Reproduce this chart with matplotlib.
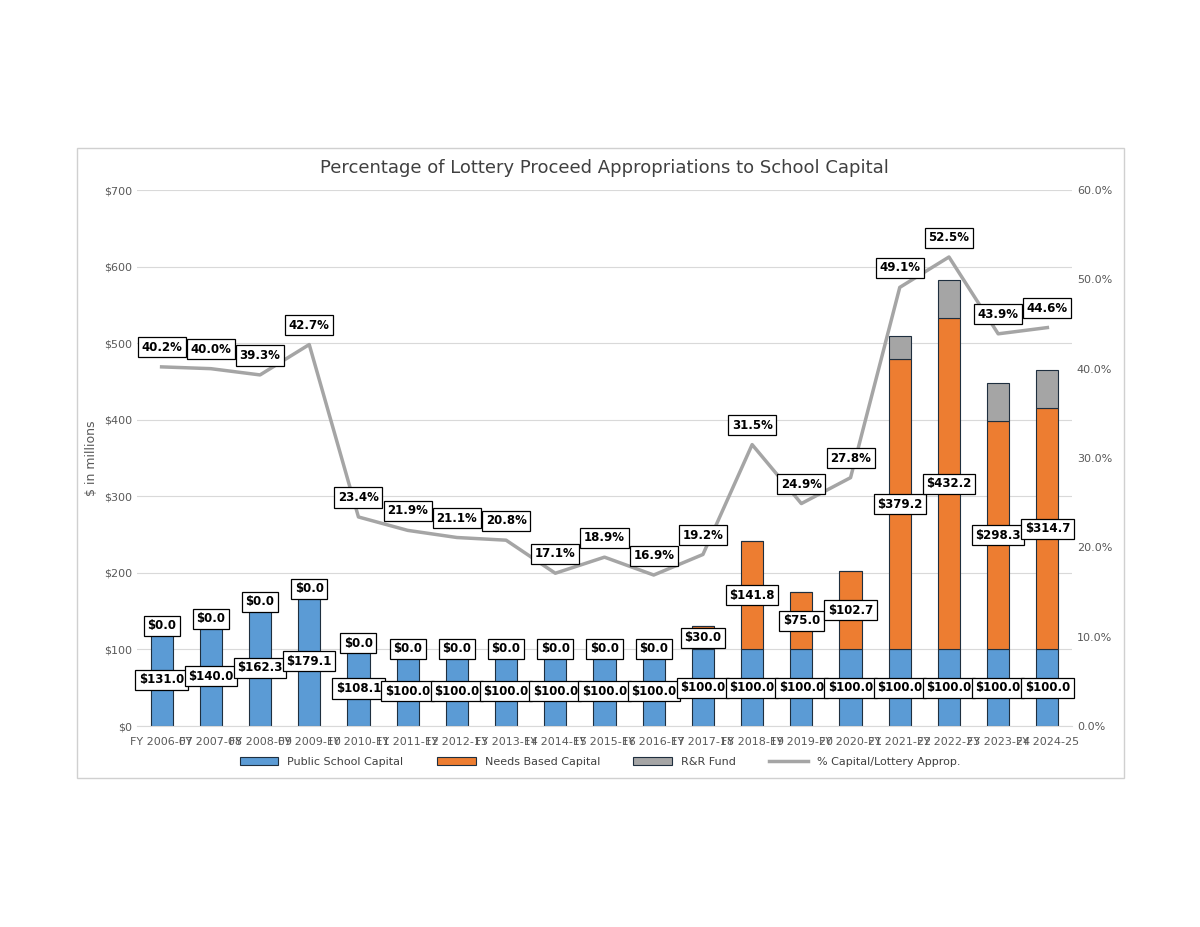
import matplotlib.pyplot as plt
import numpy as np
from matplotlib.patches import Rectangle

plt.rcParams['font.family'] = ['Liberation Sans Narrow', 'DejaVu Sans']

years = ["FY 2006-07","FY 2007-08","FY 2008-09","FY 2009-10","FY 2010-11","FY 2011-12","FY 2012-13",
         "FY 2013-14","FY 2014-15","FY 2015-16","FY 2016-17","FY 2017-18","FY 2018-19","FY 2019-20",
         "FY 2020-21","FY 2021-22","FY 2022-23","FY 2023-24","FY 2024-25"]
# drawn bar heights (as they appear in the picture)
public_drawn = [121,130,152,169,98,91,91,91,91,91,91,100,100,100,100,100,100,100,100]
# labelled values
public_label = [131.0,140.0,162.3,179.1,108.1,100,100,100,100,100,100,100,100,100,100,100,100,100,100]
needs = [0,0,0,0,0,0,0,0,0,0,0,30.0,141.8,75.0,102.7,379.2,432.2,298.3,314.7]
rr = [0,0,0,0,0,0,0,0,0,0,0,0,0,0,0,30,50,50,50]
pct = [40.2,40.0,39.3,42.7,23.4,21.9,21.1,20.8,17.1,18.9,16.9,19.2,31.5,24.9,27.8,49.1,52.5,43.9,44.6]

blue, orange, grey, lgrey = "#5B9BD5", "#ED7D31", "#A5A5A5", "#A5A5A5"
fig = plt.figure(figsize=(12, 9.27), dpi=100)
fig.patches.append(Rectangle((77/1200, 1-778/927), (1124-77)/1200, (778-148)/927,
                             transform=fig.transFigure, fill=False, ec="#D0D0D0", lw=1))
ax = fig.add_axes([137/1200, 1-726/927, (1072-137)/1200, (726-190)/927])
x = np.arange(len(years))
w = 0.45
ax.bar(x, public_drawn, w, color=blue, ec="#1F2F3F", lw=0.8, label="Public School Capital", zorder=2)
ax.bar(x, needs, w, bottom=public_drawn, color=orange, ec="#1F2F3F", lw=0.8, label="Needs Based Capital", zorder=2)
bot2 = np.array(public_drawn) + np.array(needs)
ax.bar(x, rr, w, bottom=bot2, color=grey, ec="#1F2F3F", lw=0.8, label="R&R Fund", zorder=2)
ax.set_ylim(0, 700)
ax.set_yticks(range(0, 701, 100))
ax.set_yticklabels([f"${v}" for v in range(0, 701, 100)])
ax.set_xlim(-0.5, len(years) - 0.5)
ax.set_xticks(x)
ax.set_xticklabels(years)
ax.grid(axis="y", color="#D9D9D9", lw=0.8, zorder=0)
ax.set_axisbelow(True)
for s in ["top", "right", "left"]:
    ax.spines[s].set_visible(False)
ax.spines["bottom"].set_color("#D9D9D9")
ax.tick_params(length=0, labelsize=8, colors="#595959")
ax.tick_params(axis="x", pad=8)
ax.set_ylabel("$ in millions", fontsize=9, color="#595959")

box = dict(boxstyle="square,pad=0.3", fc="white", ec="black", lw=0.9)
for i in x:
    ax.text(i, public_drawn[i] / 2, f"${public_label[i]:.1f}", ha="center", va="center",
            fontsize=8.5, fontweight="bold", bbox=box, zorder=5)
    if needs[i] > 0:
        ax.text(i, public_drawn[i] + needs[i] / 2, f"${needs[i]:.1f}", ha="center", va="center",
                fontsize=8.5, fontweight="bold", bbox=box, zorder=5)
    else:
        ax.text(i, public_drawn[i] + 10, f"${needs[i]:.1f}", ha="center", va="center",
                fontsize=8.5, fontweight="bold", bbox=box, zorder=5)

ax2 = ax.twinx()
ax2.plot(x, pct, color=lgrey, lw=2.5, label="% Capital/Lottery Approp.", zorder=3)
ax2.set_ylim(0, 60)
ax2.set_yticks(range(0, 61, 10))
ax2.set_yticklabels([f"{v:.1f}%" for v in range(0, 61, 10)])
for s in ax2.spines.values():
    s.set_visible(False)
ax2.tick_params(length=0, labelsize=8, colors="#595959")
for i in x:
    ax2.annotate(f"{pct[i]:.1f}%", (i, pct[i]), xytext=(0, 14), textcoords="offset points",
                 ha="center", va="center", fontsize=8.5, fontweight="bold", bbox=box, zorder=6)

ax.set_title("Percentage of Lottery Proceed Appropriations to School Capital", fontsize=13,
             color="#404040", pad=12)
h1, l1 = ax.get_legend_handles_labels()
h2, l2 = ax2.get_legend_handles_labels()
fig.legend(h1 + h2, l1 + l2, loc="center", bbox_to_anchor=(0.5, 1 - 762/927), ncol=4,
           frameon=False, fontsize=8, labelcolor="#404040", handlelength=3.5, columnspacing=3)
fig.savefig("out.png", dpi=100)
